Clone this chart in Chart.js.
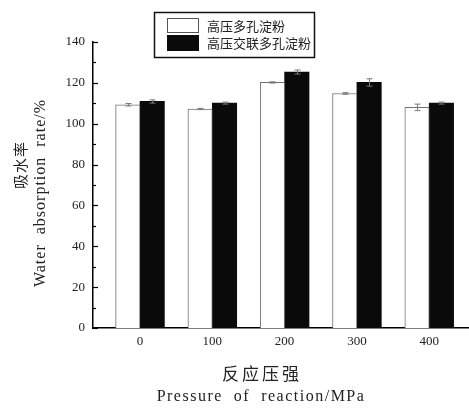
<!DOCTYPE html>
<html>
<head>
<meta charset="utf-8">
<script src="https://cdn.jsdelivr.net/npm/chart.js@4.4.1/dist/chart.umd.min.js"></script>
<style>
  body { margin: 0; background: #fff; }
  canvas { display: block; }
</style>
</head>
<body>
<canvas id="barc01" width="469" height="409"></canvas>
<script>
// pressures (MPa) and water absorption rate (%)
const pressures = [0, 100, 200, 300, 400];
const seriesNames = ['高压多孔淀粉', '高压交联多孔淀粉'];
const porousRate = [109.3, 107.2, 120.2, 114.8, 108.0];
const porousErr = [0.6, 0.3, 0.3, 0.4, 1.6];
const crossRate = [110.9, 110.1, 125.3, 120.2, 110.1];
const crossErr = [0.8, 0.5, 1.0, 1.8, 0.5];
const yTicks = [0, 20, 40, 60, 80, 100, 120, 140];

const serif = '"Liberation Serif", "DejaVu Serif", serif';
const cjk = '"Noto Sans CJK SC", sans-serif';

const errorBars = {
    id: 'errorBars',
    afterDatasetsDraw(chart) {
        const ctx = chart.ctx;
        const yScale = chart.scales.y;
        const errs = [porousErr, crossErr];
        ctx.save();
        ctx.strokeStyle = '#7a7a7a';
        ctx.lineWidth = 1;
        chart.data.datasets.forEach((ds, i) => {
            const meta = chart.getDatasetMeta(i);
            meta.data.forEach((bar, j) => {
                const v = ds.data[j].y;
                const e = errs[i][j];
                const x = Math.round(bar.x) + 0.5;
                const y1 = yScale.getPixelForValue(v + e);
                const y2 = yScale.getPixelForValue(v - e);
                ctx.beginPath();
                ctx.moveTo(x, y1); ctx.lineTo(x, y2);
                ctx.moveTo(x - 3, y1); ctx.lineTo(x + 3, y1);
                ctx.moveTo(x - 3, y2); ctx.lineTo(x + 3, y2);
                ctx.stroke();
            });
        });
        ctx.restore();
    }
};

const decorations = {
    id: 'decorations',
    afterDraw(chart) {
        const ctx = chart.ctx;
        const yScale = chart.scales.y;
        const area = chart.chartArea;
        ctx.save();

        // inward ticks on the y axis (major every 20, minor every 10)
        ctx.strokeStyle = '#000';
        ctx.lineWidth = 1.2;
        for (let v = 0; v <= 140; v += 10) {
            const y = Math.round(yScale.getPixelForValue(v)) + 0.5;
            const len = v % 20 === 0 ? 5 : 3;
            ctx.beginPath();
            ctx.moveTo(area.left, y);
            ctx.lineTo(area.left + len, y);
            ctx.stroke();
        }

        // legend box
        ctx.lineWidth = 1.5;
        ctx.strokeStyle = '#111';
        ctx.strokeRect(154.5, 12.5, 160, 45);
        ctx.fillStyle = '#fff';
        ctx.lineWidth = 1;
        ctx.strokeStyle = '#555';
        ctx.fillRect(167, 18, 32, 15);
        ctx.strokeRect(167.5, 18.5, 31, 14);
        ctx.fillStyle = '#0a0a0a';
        ctx.fillRect(167, 35, 32, 16);
        ctx.fillStyle = '#222';
        ctx.font = '13px ' + cjk;
        ctx.textAlign = 'left';
        ctx.textBaseline = 'middle';
        ctx.fillText(seriesNames[0], 207, 26.5);
        ctx.fillText(seriesNames[1], 207, 43.5);

        // x axis title
        ctx.textAlign = 'center';
        ctx.fillStyle = '#222';
        ctx.font = '17px ' + cjk;
        ctx.letterSpacing = '3px';
        ctx.fillText('反应压强', 262, 374);
        ctx.font = '16px ' + serif;
        ctx.letterSpacing = '1.5px';
        ctx.fillText('Pressure  of  reaction/MPa', 261, 397);

        // y axis title
        ctx.translate(20, 165);
        ctx.rotate(-Math.PI / 2);
        ctx.font = '15px ' + cjk;
        ctx.letterSpacing = '1px';
        ctx.fillText('吸水率', 0, 0);
        ctx.rotate(Math.PI / 2);
        ctx.translate(21, 28);
        ctx.rotate(-Math.PI / 2);
        ctx.font = '16px ' + serif;
        ctx.letterSpacing = '1px';
        ctx.fillText('Water  absorption  rate/%', 0, 0);
        ctx.restore();
    }
};

const ctx = document.getElementById('barc01');
new Chart(ctx, {
    type: 'bar',
    data: {
        datasets: [
            {
                label: seriesNames[0],
                data: pressures.map((p, i) => ({ x: p, y: porousRate[i] })),
                backgroundColor: '#ffffff',
                borderColor: '#707070',
                borderWidth: 1,
                barThickness: 24.4
            },
            {
                label: seriesNames[1],
                data: pressures.map((p, i) => ({ x: p, y: crossRate[i] })),
                backgroundColor: '#0a0a0a',
                borderWidth: 0,
                barThickness: 24.4
            }
        ]
    },
    options: {
        responsive: false,
        animation: false,
        devicePixelRatio: 1,
        layout: { padding: { top: 42, left: 0, right: 0, bottom: 0 } },
        plugins: {
            legend: { display: false },
            tooltip: { enabled: false }
        },
        scales: {
            x: {
                type: 'linear',
                offset: false,
                min: -65,
                max: 455,
                afterBuildTicks: (scale) => {
                    scale.ticks = pressures.map(v => ({ value: v }));
                },
                afterFit: (scale) => { scale.height = 81; },
                grid: { display: false, drawTicks: false, offset: false },
                border: { display: true, color: '#000', width: 1.5 },
                ticks: {
                    padding: 6,
                    color: '#222',
                    font: { family: serif, size: 13 },
                    maxRotation: 0
                }
            },
            y: {
                min: 0,
                max: 140,
                afterBuildTicks: (scale) => {
                    scale.ticks = yTicks.map(v => ({ value: v }));
                },
                afterFit: (scale) => { scale.width = 93; },
                grid: { display: false, drawTicks: false },
                border: { display: true, color: '#000', width: 1.5 },
                ticks: {
                    padding: 8,
                    color: '#222',
                    font: { family: serif, size: 13 }
                }
            }
        }
    },
    plugins: [errorBars, decorations]
});
</script>
</body>
</html>
